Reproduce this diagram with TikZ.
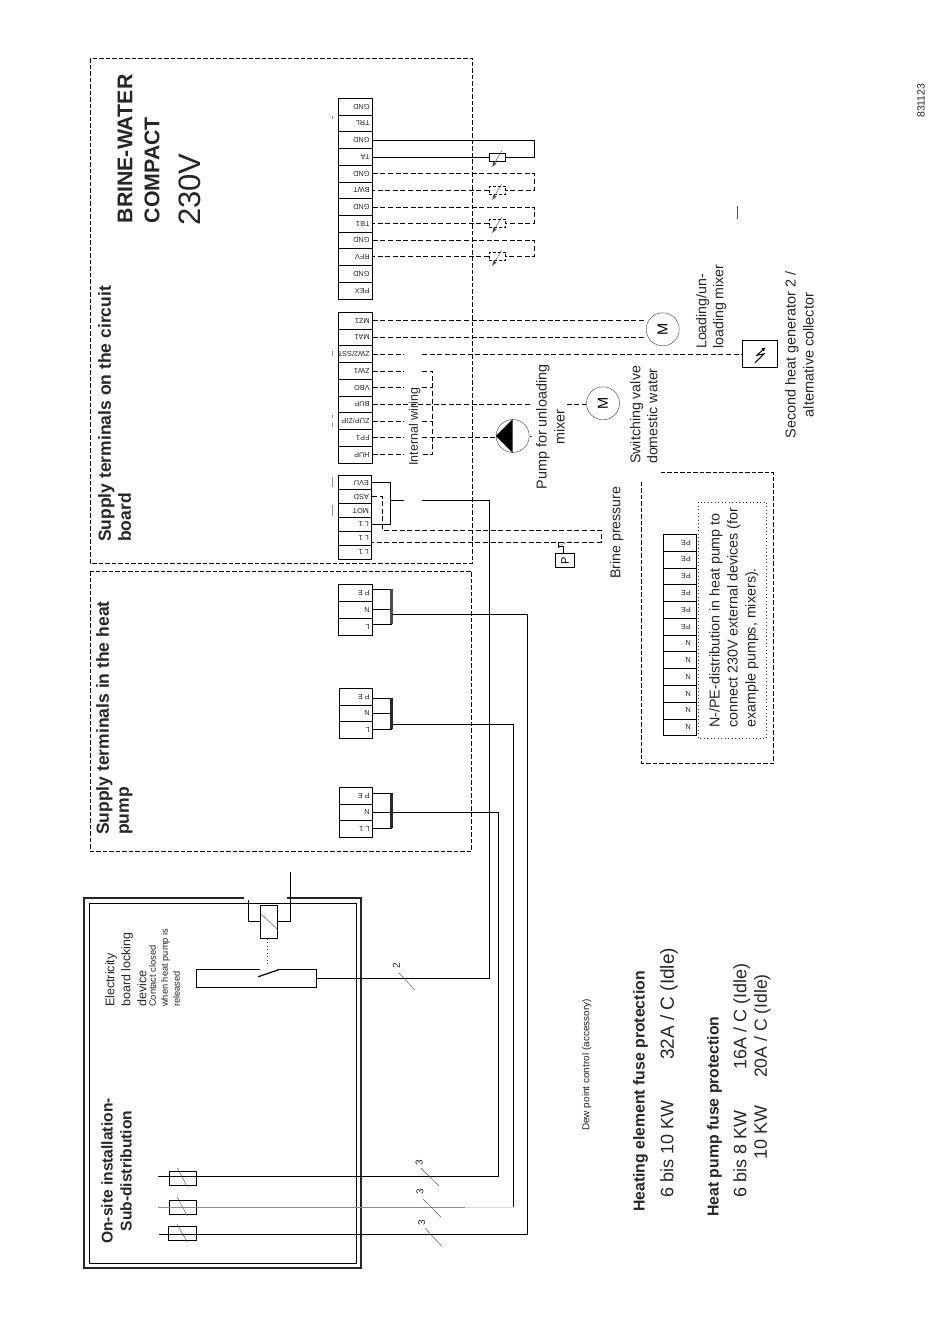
\documentclass[tikz,border=0pt]{standalone}
\usepackage{fontspec}
\setmainfont{Liberation Sans}
\usetikzlibrary{arrows.meta,calc}
\newcommand\fs[2]{\fontsize{#1}{#2}\selectfont}
\def\cellshift{3}
\newcommand\termblock[6]{%
  \foreach \lab [count=\i] in {#6} {
    \pgfmathsetmacro\yc{#4+(\i-0.5)*#5}
    \pgfmathsetmacro\wdc{#3-#2}
    \pgfmathsetmacro\xc{(#2+#3)/2}
    \node[cell,minimum width=\wdc pt,minimum height=#5 pt] (#1\i) at (\xc,\yc) {};
    \node[celltext,anchor=west] (#1\i t) at ($(#1\i.east)+(-\cellshift,0)$) {\lab};
  }%
}
\newcommand\sensor[3]{%
  \node[sens,#3] (#1) at (497.5,#2) {};
  \draw[thinline,-{Latex[length=5pt,width=4pt]}] ($(#1)+(4.2,-6.3)$) coordinate (#1a) -- ($(#1)+(-5.2,9.7)$) coordinate (#1b);
}
\begin{document}
\begin{tikzpicture}[x=1pt,y=-1pt,
  cell/.style={draw=black,line width=0.7pt,inner sep=0pt,fill=white},
  celltext/.style={rotate=180,inner sep=0pt,font=\fs{7.3}{8},text=black!85},
  lab/.style={rotate=90,inner sep=0pt,anchor=north west,align=left,text=black!85},
  labc/.style={rotate=90,inner sep=0pt,anchor=north,align=center,text=black!85},
  wire/.style={draw=black,line width=0.85pt},
  dwire/.style={draw=black,line width=0.75pt,dash pattern=on 5pt off 2.6pt},
  frame/.style={draw=black,line width=0.75pt,dash pattern=on 4.5pt off 2pt},
  thinline/.style={draw=black!70,line width=0.4pt},
  circ/.style={circle,draw=black!65,line width=0.5pt,minimum size=33pt,inner sep=0pt},
  sens/.style={rectangle,draw=black,fill=white,line width=0.8pt,minimum width=16.4pt,minimum height=8.4pt,inner sep=0pt},
  fuse/.style={rectangle,draw=black,line width=0.8pt,inner sep=0pt,minimum width=27.4pt,minimum height=14pt},
  slash/.style={draw=black!65,line width=0.45pt},
  num/.style={rotate=90,inner sep=0pt,font=\fs{10}{12},text=black!85},
  speck/.style={draw=black!45,line width=0.6pt},
  busbar/.style={line width=2.6pt,draw=black!85}]
\useasboundingbox (0,0) rectangle (950,1344);
\fill[white] (0,0) rectangle (950,1344);

% helper coordinates
\coordinate (gapL) at (404,0);
\coordinate (gapR) at (422,0);
\coordinate (xr) at (534.5,0);
\coordinate (xint) at (432.3,0);
\coordinate (xbus) at (391.7,0);
\coordinate (xm) at (489.7,0);
\coordinate (x1) at (498.3,0);
\coordinate (x2) at (513.7,0);
\coordinate (x3) at (527.3,0);

% dashed frames
\draw[frame] (90,58) rectangle (472.5,563);
\draw[frame] (90,571) rectangle (471.5,851);
\coordinate (npA) at (660.7,472.7);
\coordinate (npB) at (773.7,472.7);
\coordinate (npC) at (773.7,763.3);
\coordinate (npD) at (641.7,763.3);
\coordinate (npE) at (641.7,480);
\draw[frame] (npA) -- (npB) -- (npC) -- (npD) -- (npE);
\draw[black!80,line width=0.8pt,dash pattern=on 0.9pt off 2.6pt] (698.3,502.3) rectangle (766.7,738.3);

% terminal blocks
\termblock{a}{338.3}{372.4}{98.3}{16.725}{GND,TRL,GND,TA,GND,BWT,GND,TB1,GND,RFV,GND,PEX}
\termblock{b}{338.3}{372.4}{312.3}{16.74}{MZ1,MA1,ZW2/SST,ZW1,VBO,BUP,ZUP/ZIP,FP1,HUP}
\termblock{c}{338.3}{371.8}{475.7}{13.93}{EVU,ASD,MOT,L 1,L 1,L 1}
\termblock{d}{338.3}{372.4}{584.3}{16.9}{P E,N,L}
\termblock{e}{339.5}{372.4}{688.3}{16.67}{P E,N,L}
\termblock{f}{339.5}{372.4}{787.3}{16.55}{P E,N,L 1}
\def\cellshift{6}
\termblock{n}{663.3}{696.7}{534.3}{16.78}{PE,PE,PE,PE,PE,PE,N,N,N,N,N,N}

% sensors
\sensor{s1}{157.3}{}
\sensor{s2}{190.3}{dash pattern=on 3pt off 2pt}
\sensor{s3}{223.3}{dash pattern=on 3pt off 2pt}
\sensor{s4}{256.3}{dash pattern=on 3pt off 2pt}
\draw[wire] (a3.east) -- (a3.east -| xr) -- (s1.east -| xr) -- (s1.east);
\draw[wire] (s1.west) -- (s1.west -| a4.east);
\draw[dwire] (a5.east) -- (a5.east -| xr) -- (s2.east -| xr) -- (s2.east);
\draw[dwire] (s2.west) -- (s2.west -| a6.east);
\draw[dwire] (a7.east) -- (a7.east -| xr) -- (s3.east -| xr) -- (s3.east);
\draw[dwire] (s3.west) -- (s3.west -| a8.east);
\draw[dwire] (a9.east) -- (a9.east -| xr) -- (s4.east -| xr) -- (s4.east);
\draw[dwire] (s4.west) -- (s4.west -| a10.east);

% motors, pump, generator
\node[circ] (m1) at (662.7,329.3) {};
\node[rotate=90,inner sep=0pt,font=\fs{14.5}{16}] (m1t) at (m1) {M};
\node[circ] (m2) at (603,403.3) {};
\node[rotate=90,inner sep=0pt,font=\fs{14.5}{16}] (m2t) at (m2) {M};
\node[circ] (pump) at (512.7,436) {};
\fill[black] (pump.west) -- (pump.north) -- (pump.south) -- cycle;
\node[draw=black,line width=0.8pt,minimum width=35.4pt,minimum height=27pt,inner sep=0pt] (gen) at (760,353.8) {};
\draw[black,line width=1pt,-{Latex[length=4pt,width=4pt]}] ($(gen.center)+(-5,9)$) -- ($(gen.center)+(4,0)$) -- ($(gen.center)+(-3,1.5)$) -- ($(gen.center)+(5.5,-6.5)$);

\draw[dwire] (b1.east) -- (b1.east -| m1.west);
\draw[dwire] (b2.east) -- (b2.east -| m1.west);
\draw[dwire] (b3.east) -- (b3.east -| gapL);
\draw[dwire] (b3.east -| gapR) -- (b3.east -| gen.west);
\draw[dwire] (b4.east) -- (b4.east -| gapL);
\draw[dwire] (b4.east -| gapR) -- (b4.east -| xint) -- (b9.east -| xint) -- (b9.east -| gapR);
\draw[dwire] (b9.east) -- (b9.east -| gapL);
\draw[dwire] (b5.east) -- (b5.east -| gapL);
\draw[dwire] (b5.east -| gapR) -- (b5.east -| xint);
\coordinate (busA) at (531,0);
\coordinate (busB) at (566.7,0);
\draw[dwire] (b6.east) -- (b6.east -| busA);
\draw[dwire] (b6.east -| busB) -- (b6.east -| m2.west);
\draw[dwire] (b7.east) -- (b7.east -| gapL);
\draw[dwire] (b7.east -| gapR) -- (b7.east -| xint);
\draw[dwire] (b8.east) -- (b8.east -| gapL);
\draw[dwire] (b8.east -| gapR) -- (b8.east -| pump.west);
\draw[black!70,line width=0.5pt] ($(pump.east)+(0.5,0)$) coordinate (ptick) -- ++(2,0);

% block c wiring
\coordinate (xc1) at (390.7,0);
\coordinate (xc2) at (382.7,0);
\coordinate (xc3) at (601,0);
\coordinate (cjoin) at (390.7,500.7);
\draw[wire] (c1.east) -- (c1.east -| xc1) -- (c4.east -| xc1) -- (c4.east);
\draw[wire] (cjoin) -- (cjoin -| gapL);
\coordinate (swy) at (0,978);
\draw[wire] (cjoin -| gapR) -- (cjoin -| xm) -- (swy -| xm) coordinate (swe);
\coordinate (py1) at (0,530);
\coordinate (py2) at (0,542.3);
\draw[dwire] (c2.east) -- (c2.east -| xc2) -- (py1 -| xc2) -- (py1 -| xc3) -- (py2 -| xc3) -- (py2 -| c5.east);
\node[draw=black,line width=0.7pt,minimum width=18.6pt,minimum height=14.6pt,inner sep=0pt] (psens) at (565,560.4) {};
\node[rotate=90,inner sep=0pt,font=\fs{11}{12}] (psenst) at (psens) {P};
\draw[black,line width=0.6pt] ($(psens.north)+(-1.7,0)$) -- ++(0,-6.8) coordinate (pt1) -- ++(-5,0) coordinate (pt2);
\draw[black,line width=0.6pt] (558.3,542.3) -- (558.3,548);
\draw[black!50,line width=0.4pt] (pt2) -- (571,540.7);

% bus bars and feeds
\draw[wire] (d1.east |- 0,589.3) -- (xbus |- 0,589.3) (d2.east) -- (d2.east -| xbus) (d3.east |- 0,624.3) -- (xbus |- 0,624.3);
\draw[busbar,black!70] (391.7,589.3) -- (391.7,624.3);
\draw[wire] (e1.east |- 0,698.3) -- (xbus |- 0,698.3) (e2.east) -- (e2.east -| xbus) (e3.east |- 0,729.3) -- (xbus |- 0,729.3);
\draw[busbar] (391.7,698.3) -- (391.7,729.3);
\draw[wire] (f1.east |- 0,793.3) -- (xbus |- 0,793.3) (f2.east) -- (f2.east -| xbus) (f3.east) -- (f3.east -| xbus);
\draw[busbar] (391.7,793.3) -- (391.7,828.3);

% enclosure
\draw[black!85,line width=1.7pt] (244,898.3) -- (84,898.3) -- (84,1267.7) -- (361,1267.7) -- (361,898.3) -- (287,898.3);
\draw[black,line width=0.8pt] (89.3,903.3) rectangle (356.7,1263.3);

% feeds from fuses
\node[fuse] (fu1) at (183,1178) {};
\node[fuse,minimum height=14.4pt] (fu2) at (183,1207.5) {};
\node[fuse,minimum width=28.4pt,minimum height=14.4pt] (fu3) at (182.5,1233.5) {};
\coordinate (f1s) at (158,1176.3);
\coordinate (f2s) at (158,1207.3);
\coordinate (f3s) at (159,1234.3);
\coordinate (y1) at (0,812.3);
\coordinate (y2) at (0,724.3);
\coordinate (y3) at (0,614);
\draw[wire] (f1s) -- (f1s -| x1) -- (y1 -| x1) -- (y1 -| xbus);
\draw[black!45,line width=0.7pt] (f2s) -- (465,1207.3);
\draw[black!15,line width=0.7pt] (465,1207.3) -- (f2s -| x2);
\draw[wire] (f2s -| x2) -- (y2 -| x2) -- (y2 -| xbus);
\draw[wire] (f3s) -- (f3s -| x3) -- (y3 -| x3) -- (y3 -| xbus);
\draw[slash] (177.3,1168) -- (187.3,1187);
\draw[slash] (177.3,1197) -- (187.3,1216);
\draw[slash] (177,1224) -- (187.3,1242);

% relay and switch
\node[draw=black,line width=0.8pt,minimum width=17pt,minimum height=33pt,inner sep=0pt,fill=white] (coil) at (268.8,921.8) {};
\draw[black!70,line width=0.4pt] (coil.north west)++(0,8) -- ($(coil.south east)+(0,-9)$);
\coordinate (rl) at (248.3,900);
\coordinate (rr) at (290.3,872);
\draw[wire] (coil.west) -- (coil.west -| rl) -- (rl);
\draw[wire] (coil.east) -- (coil.east -| rr) -- (rr);
\coordinate (sw1) at (196.3,969.3);
\coordinate (sw2) at (316.7,987.3);
\coordinate (sw3) at (316.7,969.3);
\coordinate (sw4) at (196.3,987.3);
\draw[wire] (260,969.3) -- (sw1) -- (sw4) -- (sw2) -- (sw3) -- (278,969.3);
\draw[black,line width=1.2pt] (258.3,976.7) -- (278.7,969.7);
\draw[black!75,line width=0.8pt,dash pattern=on 0.9pt off 2.6pt] (coil.south) ++(-1.3,0) -- ++(0,27);
\draw[wire] (316.7,978) -- (swe);

% slashes and wire counts
\draw[slash] (399,973) -- (415,990);
\node[num] (c2l) at (396.5,966) {2};
\draw[slash] (421,1168.3) -- (439,1186);
\node[num] (c3a) at (419.3,1162.7) {3};
\draw[slash] (423.3,1199.3) -- (441,1217.3);
\node[num] (c3b) at (420,1191.5) {3};
\draw[slash] (425,1228.3) -- (442.3,1246.7);
\node[num] (c3c) at (421.7,1222.7) {3};

% texts
\node[lab,font=\fs{21.3}{27}\bfseries] (t1) at (117.5,223.5) {BRINE-WATER\\COMPACT};
\node[lab,font=\fs{31}{33}] (t2) at (179,226) {230V};
\node[lab,font=\fs{17.5}{20}\bfseries] (t3) at (98,542) {Supply terminals on the circuit\\board};
\node[lab,font=\fs{17.5}{20}\bfseries] (t4) at (96,835) {Supply terminals in the heat\\pump};
\node[labc,font=\fs{15.6}{19}\bfseries] (t5) at (101,1171) {On-site installation-\\Sub-distribution};
\node[lab,font=\fs{12.5}{16}] (t6) at (105,1007) {Electricity\\board locking\\device};
\node[lab,font=\fs{9.3}{12}] (t7) at (149,1007) {Contact closed\\when heat pump is\\released};
\node[lab,font=\fs{10}{12}] (t8) at (582,1131) {Dew point control (accessory)};
\node[lab,font=\fs{15.8}{17}\bfseries] (t9) at (633,1212) {Heating element fuse protection};
\node[lab,font=\fs{18}{20}] (t10) at (660,1198) {6 bis 10 KW};
\node[lab,font=\fs{19}{20}] (t11) at (660,1060) {32A / C (Idle)};
\node[lab,font=\fs{15.8}{17}\bfseries] (t12) at (707,1217) {Heat pump fuse protection};
\node[lab,font=\fs{18}{20}] (t13) at (733,1198) {6 bis 8 KW};
\node[lab,font=\fs{18}{20}] (t14) at (733,1070) {16A / C (Idle)};
\node[lab,font=\fs{18}{20}] (t15) at (754,1160) {10 KW};
\node[lab,font=\fs{17.6}{20}] (t16) at (754,1078) {20A / C (Idle)};
\node[lab,font=\fs{14.2}{16}] (t17) at (610,579) {Brine pressure};
\node[labc,font=\fs{14.4}{18}] (t18) at (536,427) {Pump for unloading\\mixer};
\node[lab,font=\fs{14.2}{17}] (t19) at (630,464) {Switching valve\\domestic water};
\node[lab,font=\fs{14.2}{17}] (t20) at (696,349) {Loading/un-\\loading mixer};
\node[labc,font=\fs{14.4}{18}] (t21) at (785,355) {Second heat generator 2 /\\alternative collector};
\node[lab,font=\fs{14.3}{18}] (t22) at (709,728) {N-/PE-distribution in heat pump to\\connect 230V external devices (for\\example pumps, mixers).};
\node[lab,font=\fs{12.5}{14}] (t23) at (408.5,466) {Internal wiring};
\node[lab,font=\fs{10.5}{12}] (t24) at (917,118) {831123};
\draw[black!70,line width=0.5pt] (737,206) -- (737,219);
% small marks beside the terminal blocks
\draw[speck] (332.5,351) -- (332.5,356) (332.5,415) -- (332.5,418) (332.5,423) -- (332.5,427) (332.5,477) -- (332.5,487) (332.5,505) -- (332.5,516) (332,116) -- (332,119);
\end{tikzpicture}
\end{document}
